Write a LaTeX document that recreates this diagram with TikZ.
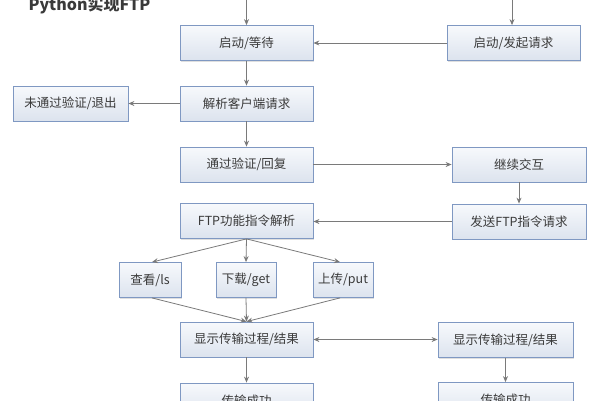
\documentclass[tikz,border=0pt]{standalone}
\usepackage{fontspec}
\setmainfont{Noto Sans CJK SC}
\newfontfamily\cjk{Noto Sans CJK SC}
\usetikzlibrary{arrows.meta,shadows}
\definecolor{boxborder}{HTML}{7F98C2}
\definecolor{boxtop}{HTML}{F7F9FC}
\definecolor{boxbot}{HTML}{DCE3EE}
\definecolor{linec}{HTML}{7A7A7A}
\definecolor{txt}{HTML}{3A3A3A}
\tikzset{
  flowbox/.style={draw=boxborder, line width=0.8pt, top color=boxtop, bottom color=boxbot,
    minimum height=35pt, inner sep=0pt, font=\cjk\fontsize{12.5}{14}\selectfont, text=txt,
    drop shadow={shadow xshift=1pt, shadow yshift=-1pt, opacity=0.25, fill=gray}},
  conn/.style={draw=linec, line width=0.8pt, -{Stealth[length=6pt,width=5pt]}},
  bconn/.style={draw=linec, line width=0.8pt, {Stealth[length=6pt,width=5pt]}-{Stealth[length=6pt,width=5pt]}}
}
\begin{document}
\begin{tikzpicture}[x=1pt,y=-1pt]
\useasboundingbox (0,0) rectangle (600,400);
\node[anchor=base west, font=\cjk\bfseries\fontsize{16}{18}\selectfont, text=txt] (title) at (25,10) {Python实现FTP};

\node[flowbox, minimum width=133pt] (wait) at (246.5,43) {启动/等待};
\node[flowbox, minimum width=133pt] (req) at (513.5,43) {启动/发起请求};
\node[flowbox, minimum width=133pt] (parse) at (246.5,103.5) {解析客户端请求};
\node[flowbox, minimum width=115pt] (fail) at (70.5,103.5) {未通过验证/退出};
\node[flowbox, minimum width=133pt] (pass) at (246.5,164.5) {通过验证/回复};
\node[flowbox, minimum width=134pt] (cont) at (519,164.5) {继续交互};
\node[flowbox, minimum width=134pt] (send) at (519,221.5) {发送FTP指令请求};
\node[flowbox, minimum width=133pt] (ftp) at (246.5,221) {FTP功能指令解析};
\node[flowbox, minimum width=62pt] (ls) at (150,280) {查看/ls};
\node[flowbox, minimum width=60pt] (get) at (246,280) {下载/get};
\node[flowbox, minimum width=60pt] (put) at (343,280) {上传/put};
\node[flowbox, minimum width=133pt] (showl) at (246.5,339.5) {显示传输过程/结果};
\node[flowbox, minimum width=135pt] (showr) at (505.5,340) {显示传输过程/结果};
\node[flowbox, minimum width=133pt] (okl) at (246.5,400.5) {传输成功};
\node[flowbox, minimum width=135pt] (okr) at (505.5,400) {传输成功};

\coordinate (in1) at (246.5,0);
\coordinate (in2) at (512,0);

\draw[conn] (in1) -- (wait.north);
\draw[conn] (in2) -- (in2 |- req.north);
\draw[conn] (req) -- (wait);
\draw[conn] (wait) -- (parse);
\draw[conn] (parse) -- (fail);
\draw[conn] (parse) -- (pass);
\draw[conn] (pass) -- (cont);
\draw[conn] (cont) -- (send);
\draw[conn] (send.west) -- (ftp.east |- send.west);
\draw[conn] (ftp.south) -- ([xshift=2pt]ls.north);
\draw[conn] (ftp.south) -- (get.north);
\draw[conn] (ftp.south) -- ([xshift=-3pt]put.north);
\draw[conn] ([xshift=2pt]ls.south) -- (showl.north);
\draw[conn] (get.south) -- (showl.north);
\draw[conn] ([xshift=-3pt]put.south) -- (showl.north);
\draw[bconn] (showl.east) -- (showr.west |- showl.east);
\draw[conn] (showl) -- (okl);
\draw[conn] (showr) -- (okr);
\end{tikzpicture}
\end{document}
